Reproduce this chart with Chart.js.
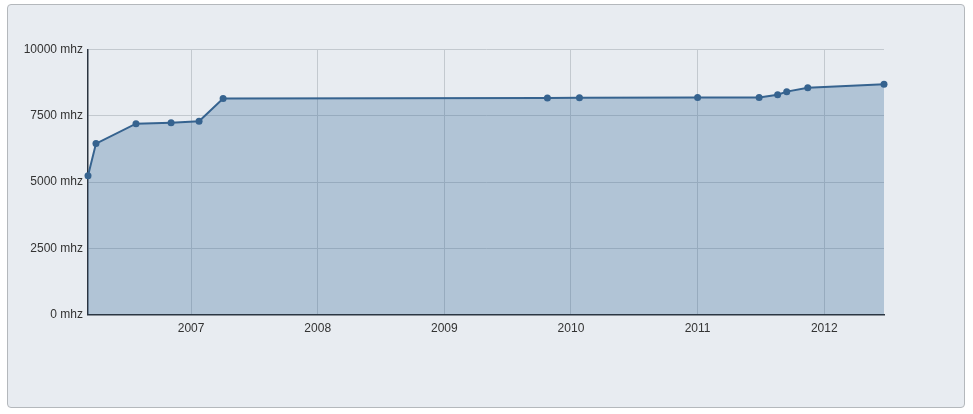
<!DOCTYPE html>
<html>
<head>
<meta charset="utf-8">
<script src="https://cdn.jsdelivr.net/npm/chart.js@4.4.1/dist/chart.umd.min.js"></script>
<style>
  html, body { margin: 0; padding: 0; background: #ffffff; }
  #panel { position: absolute; left: 7px; top: 4px; width: 956px; height: 402px;
           border: 1px solid #b4b8bc; border-radius: 4px; background: #e8ecf1; }
  #wrap { position: absolute; left: 0; top: 0; width: 973px; height: 414px; }
</style>
</head>
<body>
<div id="panel"></div>
<div id="wrap"><canvas id="c" width="973" height="414"></canvas></div>
<script>
// Dates as decimal years
const years = [2006.186, 2006.249, 2006.565, 2006.842, 2007.063, 2007.253, 2009.814, 2010.067, 2011.0, 2011.486, 2011.632, 2011.704, 2011.870, 2012.472];
const mhz   = [5240, 6450, 7200, 7240, 7290, 8150, 8170, 8180, 8190, 8190, 8290, 8410, 8560, 8690];
const yearTicks = [2007, 2008, 2009, 2010, 2011, 2012];
const yTicks = [0, 2500, 5000, 7500, 10000];
const unit = " mhz";

const points = years.map((x, i) => ({ x: x, y: mhz[i] }));

new Chart(document.getElementById('c'), {
  type: 'line',
  data: {
    datasets: [{
      data: points,
      borderColor: '#36638f',
      borderWidth: 2,
      backgroundColor: 'rgba(51,102,153,0.3)',
      fill: 'origin',
      tension: 0,
      clip: false,
      pointRadius: 3.5,
      pointBackgroundColor: '#36638f',
      pointBorderColor: '#36638f',
      pointBorderWidth: 0
    }]
  },
  options: {
    responsive: false,
    animation: false,
    layout: { padding: { left: 0, top: 49.5, right: 89, bottom: 69.5 } },
    plugins: { legend: { display: false }, tooltip: { enabled: false } },
    scales: {
      x: {
        type: 'linear',
        min: years[0],
        max: years[years.length - 1],
        afterBuildTicks: s => { s.ticks = yearTicks.map(v => ({ value: v })); },
        afterFit: s => { s.height = 30; },
        ticks: { color: '#333', font: { family: 'Liberation Sans', size: 12 }, padding: 7, maxRotation: 0,
                 callback: v => String(v) },
        grid: { color: '#c3c9cf', drawTicks: false },
        border: { color: '#2b3440', width: 1.5 }
      },
      y: {
        min: 0, max: 10000,
        afterBuildTicks: s => { s.ticks = yTicks.map(v => ({ value: v })); },
        afterFit: s => { s.width = 88; },
        ticks: { color: '#333', font: { family: 'Liberation Sans', size: 12 }, padding: 5,
                 callback: v => v + unit },
        grid: { color: '#c3c9cf', drawTicks: false },
        border: { color: '#2b3440', width: 1.5 }
      }
    }
  }
});
</script>
</body>
</html>
